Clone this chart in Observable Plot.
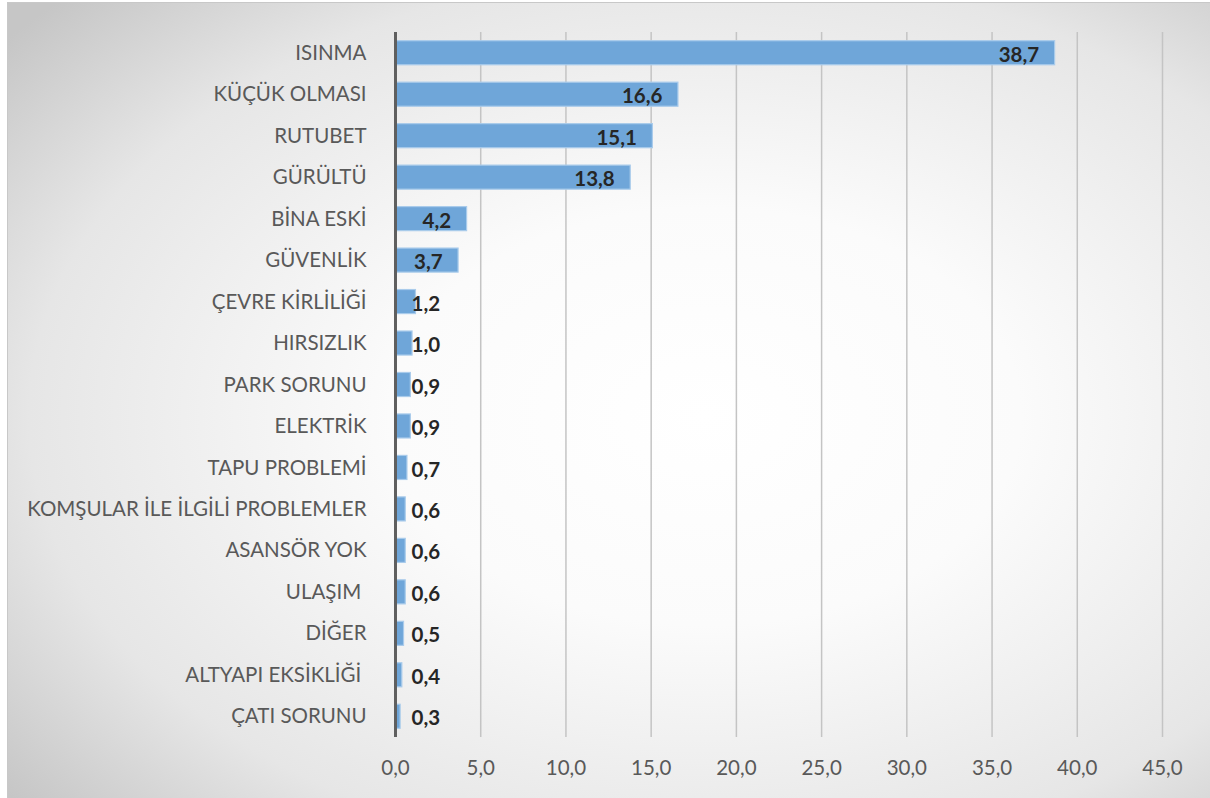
<!DOCTYPE html>
<html>
<head>
<meta charset="utf-8">
<script src="https://cdn.jsdelivr.net/npm/d3@7"></script>
<script src="https://cdn.jsdelivr.net/npm/@observablehq/plot@0.6"></script>
<style>
  html, body { margin: 0; padding: 0; background: #ffffff; }
  #frame {
    position: absolute; left: 7px; top: 2px; width: 1203px; height: 796px;
    background: radial-gradient(ellipse 75% 75% at 58% 52%, #ffffff 0%, #fbfbfb 35%, #e6e6e6 75%, #c6c6c6 100%);
    box-sizing: border-box; border-left: 1px solid #c8c8c8; border-top: 1px solid #c8c8c8;
  }
  #chart { position: absolute; left: 0; top: 0; }
  #chart svg { background: transparent; }
  .ylab text { white-space: pre; }
</style>
</head>
<body>
<div id="frame"></div>
<div id="chart"></div>
<script>
const categories = ["ISINMA", "KÜÇÜK OLMASI", "RUTUBET", "GÜRÜLTÜ", "BİNA ESKİ", "GÜVENLİK", "ÇEVRE KİRLİLİĞİ", "HIRSIZLIK", "PARK SORUNU", "ELEKTRİK", "TAPU PROBLEMİ", "KOMŞULAR İLE İLGİLİ PROBLEMLER", "ASANSÖR YOK", "ULAŞIM ", "DİĞER", "ALTYAPI EKSİKLİĞİ ", "ÇATI SORUNU"];
const values = [38.7, 16.6, 15.1, 13.8, 4.2, 3.7, 1.2, 1.0, 0.9, 0.9, 0.7, 0.6, 0.6, 0.6, 0.5, 0.4, 0.3];
const xTicks = [0, 5, 10, 15, 20, 25, 30, 35, 40, 45];

const data = categories.map((c, i) => ({cat: c, v: values[i]}));
const fmt = v => v.toFixed(1).replace(".", ",");
const inside = data.filter(d => d.v >= 3.5);
const outside = data.filter(d => d.v < 3.5);

const chart = Plot.plot({
  width: 1210,
  height: 798,
  marginLeft: 395,
  marginRight: 48,
  marginTop: 32,
  marginBottom: 61,
  style: {fontFamily: "Lato, 'Open Sans', sans-serif", background: "transparent"},
  x: {domain: [0, 45], ticks: xTicks, label: null},
  y: {domain: categories, paddingInner: 0.42, paddingOuter: 0.21, align: 0.5, round: false, label: null},
  marks: [
    Plot.ruleX(xTicks.filter(t => t > 0), {stroke: "#c4c4c4", strokeWidth: 1.5}),
    Plot.barX(data, {x: "v", y: "cat", fill: "#6fa6d9", stroke: "#a9cbeb", strokeWidth: 1.2}),
    Plot.ruleX([0], {stroke: "#5f5f5f", strokeWidth: 3}),
    Plot.axisX({ticks: xTicks, tickSize: 0, tickPadding: 23, tickFormat: fmt, fontSize: 20.5, fill: "#595959", stroke: null, label: null}),
    Plot.axisY({tickSize: 0, tickPadding: 29, fontSize: 20.5, fill: "#595959", className: "ylab", label: null}),
    Plot.text(inside, {x: "v", y: "cat", text: d => fmt(d.v), textAnchor: "end", dx: -16, dy: 2, fontSize: 20.5, fontWeight: "bold", fill: "#262626"}),
    Plot.text(outside, {x: 0, y: "cat", text: d => fmt(d.v), textAnchor: "start", dx: 16, dy: 2, fontSize: 20.5, fontWeight: "bold", fill: "#262626"})
  ]
});
document.getElementById("chart").appendChild(chart);
</script>
</body>
</html>
